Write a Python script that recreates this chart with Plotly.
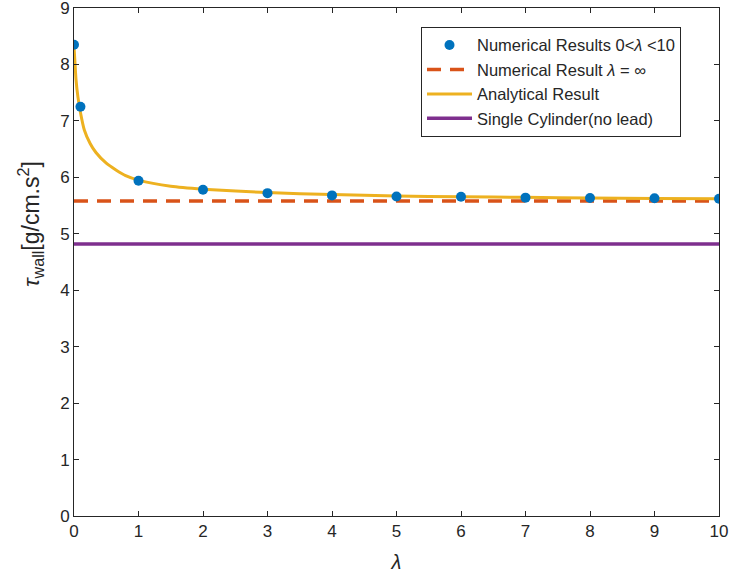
import plotly.graph_objects as go

# Numerical results 0<λ<10
num_x = [0, 0.1, 1, 2, 3, 4, 5, 6, 7, 8, 9, 10]
num_y = [8.35, 7.25, 5.94, 5.78, 5.72, 5.68, 5.66, 5.655, 5.64, 5.635, 5.63, 5.62]

# Numerical result λ = ∞
inf_x = [0, 10]
inf_y = [5.58, 5.58]

# Analytical result
ana_x = [0, 0.015, 0.03, 0.06, 0.1, 0.16, 0.25, 0.34, 0.5, 0.65, 0.8, 1, 1.5, 2, 3, 4, 5, 6, 7, 8, 9, 10]
ana_y = [8.32, 8.03, 7.75, 7.43, 7.15, 6.84, 6.60, 6.44, 6.25, 6.13, 6.03, 5.95, 5.84, 5.79, 5.73, 5.695, 5.67, 5.655, 5.645, 5.635, 5.627, 5.62]

# Single cylinder (no lead)
single_x = [0, 10]
single_y = [4.82, 4.82]

x_ticks = list(range(0, 11))
y_ticks = list(range(0, 10))

BLUE = "#0072BD"
ORANGE = "#D95319"
YELLOW = "#EDB120"
PURPLE = "#7E2F8E"
FONT = "Liberation Sans, Arial, sans-serif"

fig = go.Figure()
fig.add_trace(go.Scatter(x=inf_x, y=inf_y, mode="lines", legendrank=2,
                         line=dict(color=ORANGE, width=3.5, dash="14px,9px"),
                         name="Numerical Result <i>λ</i> = ∞"))
fig.add_trace(go.Scatter(x=ana_x, y=ana_y, mode="lines", legendrank=3,
                         line=dict(color=YELLOW, width=3, shape="spline", smoothing=0.6),
                         name="Analytical Result"))
fig.add_trace(go.Scatter(x=single_x, y=single_y, mode="lines", legendrank=4,
                         line=dict(color=PURPLE, width=3.5),
                         name="Single Cylinder(no lead)"))
fig.add_trace(go.Scatter(x=num_x, y=num_y, mode="markers", legendrank=1,
                         marker=dict(color=BLUE, size=10),
                         name="Numerical Results 0&lt;<i>λ</i> &lt;10"))

axis_common = dict(showgrid=False, zeroline=False, showline=True, mirror="ticks",
                   linecolor="#262626", linewidth=1, ticks="inside", ticklen=5,
                   tickcolor="#262626", ticklabeloverflow="allow",
                   tickfont=dict(size=17, color="#262626", family=FONT))

fig.update_layout(
    width=733, height=581,
    margin=dict(l=74, r=14, t=8, b=65, autoexpand=False),
    plot_bgcolor="white", paper_bgcolor="white",
    font=dict(family=FONT, color="#262626"),
    showlegend=True,
    legend=dict(x=0.538, y=0.963, xanchor="left", yanchor="top",
                bgcolor="white", bordercolor="#262626", borderwidth=1,
                font=dict(size=16.5, color="#262626", family=FONT),
                tracegroupgap=0, itemwidth=45),
    xaxis=dict(range=[0, 10], tickvals=x_ticks, ticktext=[str(v) for v in x_ticks],
               title=dict(text="<i>λ</i>", font=dict(size=20), standoff=14), **axis_common),
    yaxis=dict(range=[0, 9], tickvals=y_ticks, ticktext=[str(v) for v in y_ticks],
               **axis_common),
    annotations=[dict(text="<i>τ</i><sub>wall</sub>[g/cm.s<sup>2</sup>]",
                      xref="paper", yref="paper", x=-0.068, y=0.575,
                      xanchor="center", yanchor="middle", textangle=-90,
                      showarrow=False, font=dict(size=23, color="#262626", family=FONT))],
)

fig.write_html("out.html")
